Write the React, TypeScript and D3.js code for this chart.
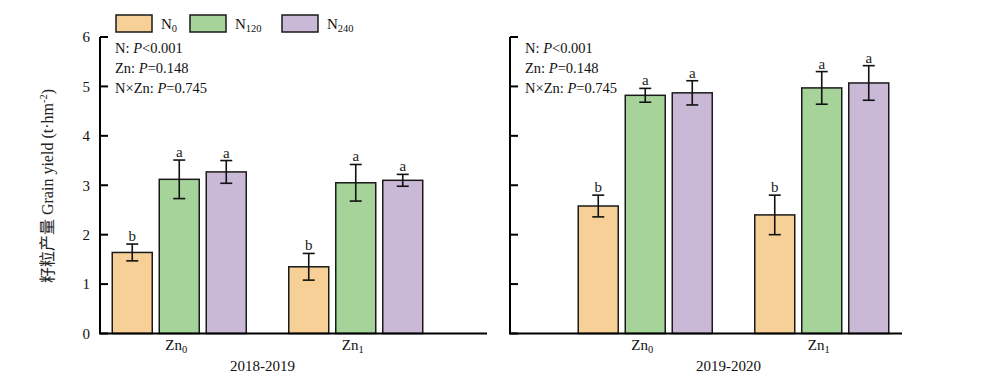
import * as d3 from 'd3';

// categories
const zinc = ['Zn0', 'Zn1'];
const nitrogen = ['N0', 'N120', 'N240'];
const yTicks = [0, 1, 2, 3, 4, 5, 6];

// 2018-2019 means (per N level, Zn0 / Zn1) and their error bars
const n0_1819 = [1.64, 1.35];
const n120_1819 = [3.12, 3.05];
const n240_1819 = [3.27, 3.1];
const n0_1819_err = [0.17, 0.27];
const n120_1819_err = [0.39, 0.37];
const n240_1819_err = [0.23, 0.12];

// 2019-2020
const n0_1920 = [2.58, 2.4];
const n120_1920 = [4.82, 4.97];
const n240_1920 = [4.87, 5.07];
const n0_1920_err = [0.22, 0.4];
const n120_1920_err = [0.14, 0.33];
const n240_1920_err = [0.245, 0.35];

const letters = ['b', 'a', 'a'];
const statLines = [
  ['N: ', 'P', '<0.001'],
  ['Zn: ', 'P', '=0.148'],
  ['N×Zn: ', 'P', '=0.745'],
];

const colors = ['#f7d098', '#a6d399', '#c9b9d7'];
const font = '"Liberation Serif", "Times New Roman", serif';

interface Panel {
  season: string;
  means: number[][];
  errs: number[][];
  axisX: number;
  axisEnd: number;
  bandRange: [number, number];
  showTickLabels: boolean;
}

const panels: Panel[] = [
  {
    season: '2018-2019',
    means: [n0_1819, n120_1819, n240_1819],
    errs: [n0_1819_err, n120_1819_err, n240_1819_err],
    axisX: 100,
    axisEnd: 487,
    bandRange: [91, 444],
    showTickLabels: true,
  },
  {
    season: '2019-2020',
    means: [n0_1920, n120_1920, n240_1920],
    errs: [n0_1920_err, n120_1920_err, n240_1920_err],
    axisX: 510,
    axisEnd: 902,
    bandRange: [557, 910],
    showTickLabels: false,
  },
];

const y = d3.scaleLinear().domain([0, 6]).range([333.5, 37]);
const inner = d3.scaleBand<string>().domain(nitrogen).range([-67, 67]).paddingInner(0.149);

function Sub({ base, sub, size }: { base: string; sub: string; size: number }) {
  return (
    <>
      {base}
      <tspan fontSize={size * 0.7} dy={3}>
        {sub}
      </tspan>
    </>
  );
}

function PanelView({ p }: { p: Panel }) {
  const x = d3.scaleBand<string>().domain(zinc).range(p.bandRange);
  const y0 = y(0);
  return (
    <g>
      {nitrogen.map((n, i) =>
        zinc.map((z, j) => {
          const cx = (x(z) ?? 0) + x.bandwidth() / 2;
          const bx = cx + (inner(n) ?? 0);
          const v = p.means[i][j];
          const e = p.errs[i][j];
          const mx = bx + inner.bandwidth() / 2;
          return (
            <g key={n + z}>
              <rect
                x={bx}
                y={y(v)}
                width={inner.bandwidth()}
                height={y0 - y(v)}
                fill={colors[i]}
                stroke="#1a1a1a"
                strokeWidth={1.5}
              />
              <g stroke="#111" strokeWidth={1.6}>
                <line x1={mx} x2={mx} y1={y(v + e)} y2={y(v - e)} />
                <line x1={mx - 6} x2={mx + 6} y1={y(v + e)} y2={y(v + e)} />
                <line x1={mx - 6} x2={mx + 6} y1={y(v - e)} y2={y(v - e)} />
              </g>
              <text x={mx} y={y(v + e) - 3} textAnchor="middle" fontSize={15} fontFamily={font} fill="#222">
                {letters[i]}
              </text>
            </g>
          );
        }),
      )}
      {/* axes */}
      <line x1={p.axisX} x2={p.axisX} y1={y(6)} y2={y0} stroke="#000" strokeWidth={2} />
      <line x1={p.axisX - 1} x2={p.axisEnd} y1={y0} y2={y0} stroke="#000" strokeWidth={2} />
      {yTicks.map((t) => (
        <g key={t}>
          <line x1={p.axisX} x2={p.axisX + 8} y1={y(t)} y2={y(t)} stroke="#000" strokeWidth={2} />
          {p.showTickLabels && (
            <text
              x={p.axisX - 10}
              y={y(t)}
              dy="0.35em"
              textAnchor="end"
              fontSize={15}
              fontFamily={font}
              fill="#111"
            >
              {t}
            </text>
          )}
        </g>
      ))}
      {zinc.map((z) => (
        <text
          key={z}
          x={(x(z) ?? 0) + x.bandwidth() / 2 - 3}
          y={350}
          textAnchor="middle"
          fontSize={15}
          fontFamily={font}
          fill="#111"
        >
          <Sub base="Zn" sub={z.slice(2)} size={15} />
        </text>
      ))}
      <text
        x={(p.bandRange[0] + p.bandRange[1]) / 2 - 5}
        y={371}
        textAnchor="middle"
        fontSize={15}
        fontFamily={font}
        fill="#111"
      >
        {p.season}
      </text>
      {statLines.map((s, k) => (
        <text key={k} x={p.axisX + 15} y={53 + k * 20} fontSize={14.5} fontFamily={font} fill="#111">
          {s[0]}
          <tspan fontStyle="italic">{s[1]}</tspan>
          {s[2]}
        </text>
      ))}
    </g>
  );
}

export default function App() {
  const legendX = [116, 190, 282];
  return (
    <svg
      width={1000}
      height={388}
      viewBox="0 0 1000 388"
      style={{ position: 'absolute', left: 0, top: 0, background: '#fff' }}
    >
      {panels.map((p) => (
        <PanelView key={p.season} p={p} />
      ))}
      {nitrogen.map((n, i) => (
        <g key={n}>
          <rect x={legendX[i]} y={15} width={36} height={17} fill={colors[i]} stroke="#1a1a1a" strokeWidth={1.5} />
          <text x={legendX[i] + 45} y={29} fontSize={15} fontFamily={font} fill="#111">
            <Sub base="N" sub={n.slice(1)} size={15} />
          </text>
        </g>
      ))}
      <text
        transform="translate(53,186) rotate(-90)"
        textAnchor="middle"
        fontSize={16}
        fontFamily={`${font}, "Noto Sans CJK SC"`}
        fill="#222"
      >
        籽粒产量 Grain yield (t·hm
        <tspan fontSize={10.5} dy={-6}>
          -2
        </tspan>
        <tspan dy={6}>)</tspan>
      </text>
    </svg>
  );
}
